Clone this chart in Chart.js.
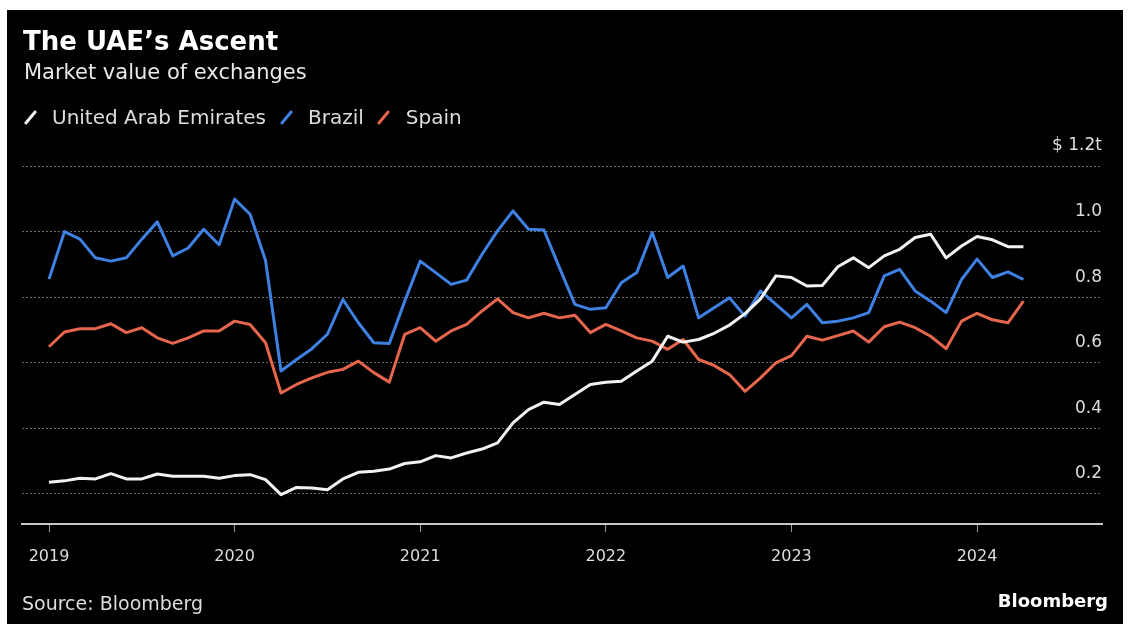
<!DOCTYPE html>
<html>
<head>
<meta charset="utf-8">
<title>The UAE’s Ascent</title>
<script src="https://cdn.jsdelivr.net/npm/chart.js@4.4.1/dist/chart.umd.min.js"></script>
<style>
  html, body { margin: 0; padding: 0; background: #fff; }
  body { width: 1133px; height: 624px; position: relative; overflow: hidden; font-family: 'DejaVu Sans', sans-serif; }
  #panel { position: absolute; left: 7px; top: 10px; right: 10px; bottom: 0; background: #000; }
  #chart { position: absolute; left: 0; top: 0; }
  .txt { position: absolute; line-height: 1; white-space: nowrap; }
  #title { left: 23px; top: 28px; font-size: 26px; font-weight: bold; color: #fff; }
  #subtitle { left: 24px; top: 62px; font-size: 21px; color: #e8e8e8; }
  #legend { left: 24px; top: 107px; font-size: 20px; color: #ddd; display: flex; align-items: center; }
  .item { display: flex; align-items: center; margin-right: 14px; }
  .slash { width: 12px; height: 17px; position: relative; margin-right: 16px; }
  .slash::after { content: ''; position: absolute; left: 4.5px; top: 0; width: 3px; height: 17px;
                  background: currentColor; transform: rotate(40deg); border-radius: 1px; }
  #source { left: 22px; top: 594px; font-size: 19px; color: #ddd; }
  #brand { right: 25px; top: 592px; font-size: 18px; font-weight: bold; color: #fff; }
</style>
</head>
<body>
<div id="panel"></div>
<canvas id="chart" width="1133" height="624"></canvas>
<div class="txt" id="title">The UAE’s Ascent</div>
<div class="txt" id="subtitle">Market value of exchanges</div>
<div class="txt" id="legend"></div>
<div class="txt" id="source">Source: Bloomberg</div>
<div class="txt" id="brand">Bloomberg</div>
<script>
// monthly market value of exchanges, Jan 2019 - Apr 2024, $ trillions
var years = ['2019', '2020', '2021', '2022', '2023', '2024'];

var uae = [
  0.236, 0.240, 0.248, 0.246, 0.262, 0.246, 0.246, 0.261, 0.254, 0.254, 0.254, 0.248,
  0.256, 0.259, 0.244, 0.198, 0.220, 0.218, 0.213, 0.246, 0.266, 0.269, 0.276, 0.293,
  0.298, 0.317, 0.310, 0.325, 0.337, 0.356, 0.417, 0.457, 0.480, 0.473, 0.503, 0.534,
  0.541, 0.544, 0.575, 0.605, 0.681, 0.663, 0.671, 0.690, 0.715, 0.750, 0.795, 0.865,
  0.860, 0.834, 0.836, 0.893, 0.920, 0.890, 0.926, 0.946, 0.982, 0.992, 0.920, 0.956,
  0.985, 0.975, 0.954, 0.954
];
var brazil = [
  0.855, 1.000, 0.977, 0.920, 0.910, 0.920, 0.977, 1.030, 0.926, 0.950, 1.007, 0.960,
  1.099, 1.053, 0.912, 0.575, 0.610, 0.643, 0.687, 0.793, 0.722, 0.661, 0.659, 0.788,
  0.910, 0.875, 0.839, 0.852, 0.931, 1.002, 1.063, 1.007, 1.005, 0.890, 0.778, 0.763,
  0.768, 0.844, 0.875, 0.997, 0.860, 0.895, 0.737, 0.768, 0.798, 0.742, 0.819, 0.778,
  0.737, 0.778, 0.722, 0.727, 0.737, 0.753, 0.865, 0.885, 0.819, 0.788, 0.753, 0.854,
  0.916, 0.860, 0.877, 0.854
];
var spain = [
  0.649, 0.694, 0.704, 0.704, 0.719, 0.692, 0.707, 0.676, 0.659, 0.676, 0.697, 0.697,
  0.727, 0.717, 0.661, 0.508, 0.534, 0.554, 0.571, 0.580, 0.605, 0.570, 0.541, 0.687,
  0.707, 0.666, 0.697, 0.717, 0.758, 0.795, 0.753, 0.737, 0.751, 0.737, 0.745, 0.692,
  0.717, 0.697, 0.676, 0.666, 0.641, 0.671, 0.610, 0.592, 0.564, 0.513, 0.554, 0.600,
  0.622, 0.681, 0.669, 0.683, 0.697, 0.663, 0.710, 0.724, 0.707, 0.681, 0.643, 0.727,
  0.751, 0.731, 0.722, 0.788
];

var yTicks = [0.2, 0.4, 0.6, 0.8, 1.0, 1.2];
var yLabels = ['0.2', '0.4', '0.6', '0.8', '1.0', '$ 1.2t'];

var series = [
  {label: 'United Arab Emirates', values: uae, color: '#f2f2f2'},
  {label: 'Brazil', values: brazil, color: '#3f80e3'},
  {label: 'Spain', values: spain, color: '#e5664d'}
];

var toPoints = function(values) {
  return values.map(function(v, i) { return {x: i, y: v}; });
};

// legend: coloured slash + name
var legendEl = document.getElementById('legend');
series.forEach(function(s) {
  var item = document.createElement('span');
  item.className = 'item';
  var mark = document.createElement('span');
  mark.className = 'slash';
  mark.style.color = s.color;
  item.appendChild(mark);
  item.appendChild(document.createTextNode(s.label));
  legendEl.appendChild(item);
});

Chart.defaults.font.family = "'DejaVu Sans', sans-serif";

new Chart(document.getElementById('chart'), {
  type: 'line',
  data: {
    datasets: series.map(function(s) {
      return {
        label: s.label,
        data: toPoints(s.values),
        borderColor: s.color,
        borderWidth: 3,
        pointRadius: 0,
        tension: 0,
        borderJoinStyle: 'round'
      };
    })
  },
  options: {
    responsive: false,
    animation: false,
    devicePixelRatio: 1,
    layout: {padding: {left: 22, top: 166, right: 31, bottom: 60}},
    plugins: {legend: {display: false}, tooltip: {enabled: false}},
    scales: {
      x: {
        type: 'linear',
        min: -1.746,
        max: 68.08,
        afterBuildTicks: function(scale) {
          scale.ticks = years.map(function(y, i) { return {value: i * 12}; });
        },
        afterFit: function(scale) { scale.height = 40; },
        ticks: {
          color: '#dddddd',
          font: {size: 16},
          padding: 15,
          maxRotation: 0,
          autoSkip: false,
          callback: function(value) { return years[value / 12]; }
        },
        grid: {drawOnChartArea: false, drawTicks: true, tickLength: 8, tickColor: '#9a9a9a', lineWidth: 1},
        border: {display: true, color: '#c8c8c8', width: 2}
      },
      y: {
        position: 'right',
        min: 0.1085,
        max: 1.2,
        afterBuildTicks: function(scale) {
          scale.ticks = yTicks.map(function(v) { return {value: v}; });
        },
        afterFit: function(scale) { scale.width = 0; },
        ticks: {
          mirror: true,
          crossAlign: 'near',
          padding: 0,
          labelOffset: -20,
          color: '#dddddd',
          font: {size: 17},
          callback: function(value, index) { return yLabels[index]; }
        },
        grid: {color: '#6a6a6a', lineWidth: 1, drawTicks: false},
        border: {display: false, dash: [2, 2]}
      }
    }
  }
});
</script>
</body>
</html>
